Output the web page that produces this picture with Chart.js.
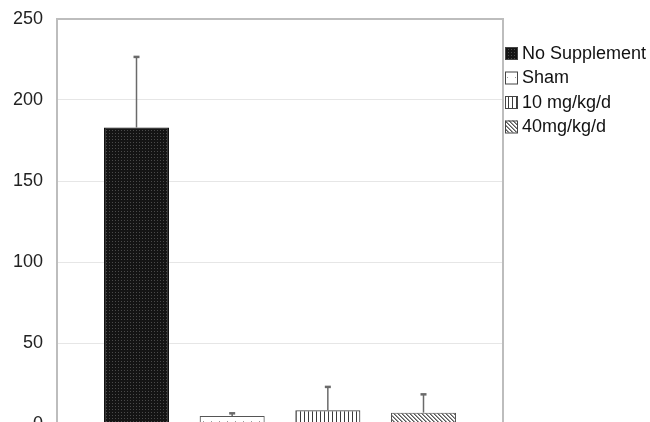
<!DOCTYPE html>
<html>
<head>
<meta charset="utf-8">
<title>Supplement groups</title>
<script src="https://cdn.jsdelivr.net/npm/chart.js@4/dist/chart.umd.min.js"></script>
<style>
  html, body { margin: 0; padding: 0; background: #fff; overflow: hidden; }
  #wrap { width: 650px; height: 440px; }
</style>
</head>
<body>
<div id="wrap"><canvas id="groupChart" width="650" height="440"></canvas></div>
<script>
// Group names, means and upper error (SD) per group
const groupNames = ['No Supplement', 'Sham', '10 mg/kg/d', '40mg/kg/d'];
const groupMeans = [183, 5, 8.5, 7];
const groupErrors = [43.6, 1.6, 14.4, 11.3];
const yTickValues = [0, 50, 100, 150, 200, 250];

// Small tiled fills, one per group
function makePattern(kind) {
    const c = document.createElement('canvas');
    const g = c.getContext('2d');
    if (kind === 'dark') {
        c.width = 3; c.height = 3;
        g.fillStyle = '#141414';
        g.fillRect(0, 0, 3, 3);
        g.fillStyle = '#4a4a4a';
        g.fillRect(1, 1, 1, 1);
    } else if (kind === 'dots') {
        c.width = 8; c.height = 8;
        g.fillStyle = '#ffffff';
        g.fillRect(0, 0, 8, 8);
        g.fillStyle = '#9a9a9a';
        g.fillRect(3, 5, 1, 1);
    } else if (kind === 'vlines') {
        c.width = 4; c.height = 4;
        g.fillStyle = '#ffffff';
        g.fillRect(0, 0, 4, 4);
        g.fillStyle = '#3c3c3c';
        g.fillRect(0, 0, 1, 4);
    } else {
        c.width = 4; c.height = 4;
        g.fillStyle = '#ffffff';
        g.fillRect(0, 0, 4, 4);
        g.fillStyle = '#5a5a5a';
        for (let i = 0; i < 4; i++) {
            g.fillRect(i, i, 1, 1);
        }
        g.fillStyle = '#9a9a9a';
        for (let i = 0; i < 4; i++) {
            g.fillRect((i + 1) % 4, i, 1, 1);
        }
    }
    return g.createPattern(c, 'repeat');
}

const fills = [makePattern('dark'), makePattern('dots'), makePattern('vlines'), makePattern('diag')];
const edges = ['#111111', '#555555', '#444444', '#555555'];

// Upward error whiskers with a short cap
const errorBars = {
    id: 'errorBars',
    afterDatasetsDraw(chart) {
        const ctx = chart.ctx;
        const y = chart.scales.y;
        ctx.save();
        ctx.strokeStyle = '#6a6a6a';
        chart.data.datasets.forEach((ds, i) => {
            const el = chart.getDatasetMeta(i).data[0];
            const top = y.getPixelForValue(groupMeans[i] + groupErrors[i]);
            ctx.lineWidth = 1.5;
            ctx.beginPath();
            ctx.moveTo(el.x, el.y);
            ctx.lineTo(el.x, top);
            ctx.stroke();
            ctx.lineWidth = 2.5;
            ctx.beginPath();
            ctx.moveTo(el.x - 3, top);
            ctx.lineTo(el.x + 3, top);
            ctx.stroke();
        });
        ctx.restore();
    }
};

// Top and right edges of the plot box
const plotFrame = {
    id: 'plotFrame',
    afterDraw(chart) {
        const a = chart.chartArea;
        const ctx = chart.ctx;
        ctx.save();
        ctx.strokeStyle = '#bdbdbd';
        ctx.lineWidth = 2;
        ctx.beginPath();
        ctx.moveTo(a.left, a.top);
        ctx.lineTo(a.right, a.top);
        ctx.lineTo(a.right, a.bottom);
        ctx.stroke();
        ctx.restore();
    }
};

// Legend to the right of the plot, one swatch per group
const sideLegend = {
    id: 'sideLegend',
    afterDraw(chart) {
        const ctx = chart.ctx;
        const x0 = chart.chartArea.right + 2;
        ctx.save();
        ctx.font = '18px "Liberation Sans", Arial, sans-serif';
        ctx.textBaseline = 'middle';
        chart.data.datasets.forEach((ds, i) => {
            const cy = 53 + i * 24.5;
            ctx.fillStyle = fills[i];
            ctx.fillRect(x0, cy - 6, 12, 12);
            ctx.strokeStyle = '#444';
            ctx.lineWidth = 1;
            ctx.strokeRect(x0 + 0.5, cy - 5.5, 12, 12);
            ctx.fillStyle = '#111';
            ctx.fillText(ds.label, x0 + 17, cy + 1);
        });
        ctx.restore();
    }
};

const ctx = document.getElementById('groupChart').getContext('2d');
new Chart(ctx, {
    type: 'bar',
    data: {
        labels: [''],
        datasets: groupNames.map((name, i) => ({
            label: name,
            data: [groupMeans[i]],
            backgroundColor: fills[i],
            borderColor: edges[i],
            borderWidth: 1.2,
            categoryPercentage: 0.858,
            barPercentage: 0.68
        }))
    },
    options: {
        responsive: false,
        animation: false,
        layout: { padding: { left: 0, top: 19, right: 147, bottom: 16 } },
        plugins: {
            legend: { display: false },
            tooltip: { enabled: false }
        },
        scales: {
            x: { display: false },
            y: {
                min: 0,
                max: 250,
                afterBuildTicks(scale) {
                    scale.ticks = yTickValues.map(v => ({ value: v }));
                },
                afterFit(scale) {
                    // fixed axis width; let the plot run right up to the padding
                    scale.width = 57;
                    scale.paddingTop = 0;
                    scale.paddingBottom = 0;
                },
                grid: { color: '#e6e6e6', lineWidth: 1, drawTicks: false },
                border: { color: '#bdbdbd', width: 2 },
                ticks: {
                    padding: 14,
                    color: '#222',
                    font: { family: '"Liberation Sans", Arial, sans-serif', size: 18 }
                }
            }
        }
    },
    plugins: [errorBars, plotFrame, sideLegend]
});
</script>
</body>
</html>
